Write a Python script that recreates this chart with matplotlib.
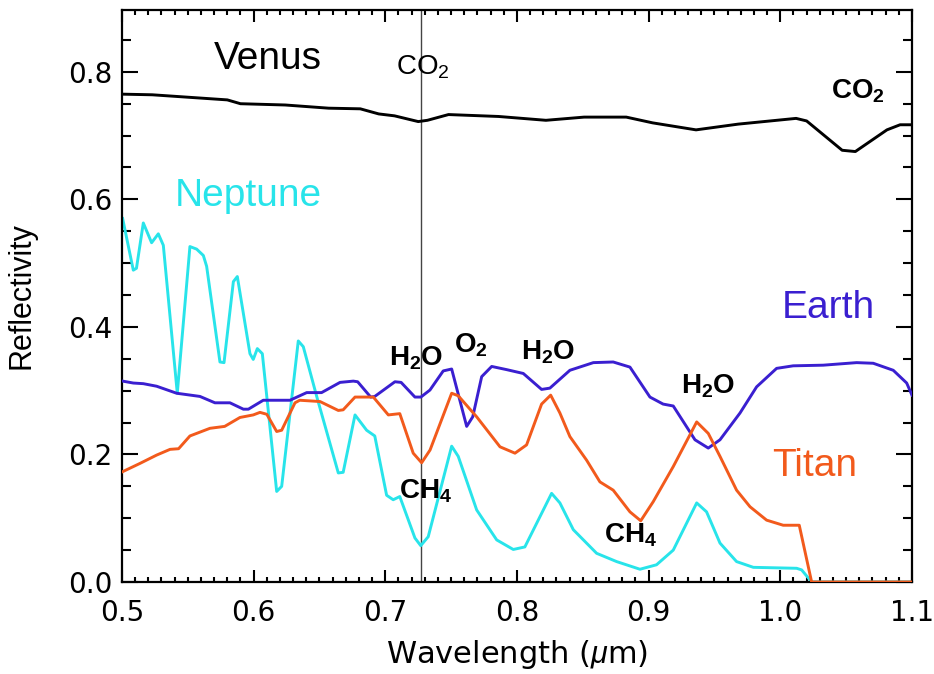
import numpy as np
import matplotlib
matplotlib.use('Agg')
import matplotlib.pyplot as plt

plt.rcParams['mathtext.fontset'] = 'custom'
plt.rcParams['mathtext.rm'] = 'Liberation Sans'
plt.rcParams['mathtext.it'] = 'Liberation Sans:italic'
plt.rcParams['mathtext.bf'] = 'Liberation Sans:bold'

# spectra: wavelength (um), reflectivity
venus_wl = [0.500, 0.523, 0.580, 0.590, 0.624, 0.657, 0.681, 0.695, 0.707, 0.725,
            0.732, 0.748, 0.786, 0.822, 0.851, 0.883, 0.903, 0.936, 0.968, 1.012,
            1.020, 1.047, 1.057, 1.081, 1.091, 1.100]
venus_r = [0.765, 0.764, 0.756, 0.750, 0.748, 0.743, 0.742, 0.734, 0.731, 0.722,
           0.724, 0.733, 0.730, 0.724, 0.729, 0.729, 0.720, 0.709, 0.718, 0.727,
           0.723, 0.677, 0.675, 0.709, 0.717, 0.717]

neptune_wl = [0.5005, 0.5086, 0.511, 0.5162, 0.5225, 0.5276, 0.5314, 0.542, 0.5516, 0.5567,
              0.5618, 0.5643, 0.5744, 0.5775, 0.5846, 0.5876, 0.5972, 0.5997, 0.6028, 0.6066,
              0.6175, 0.6213, 0.6339, 0.6377, 0.6479, 0.6643, 0.668, 0.677, 0.6858, 0.692,
              0.701, 0.706, 0.711, 0.7225, 0.7269, 0.7326, 0.7504, 0.7554, 0.7694, 0.7846,
              0.7972, 0.806, 0.8263, 0.8326, 0.8428, 0.8605, 0.8757, 0.8934, 0.906, 0.9187,
              0.9365, 0.944, 0.9542, 0.9668, 0.9795, 1.0124, 1.0162, 1.0238, 1.100]
neptune_r = [0.570, 0.489, 0.492, 0.563, 0.532, 0.546, 0.528, 0.296, 0.526, 0.522,
             0.512, 0.495, 0.345, 0.344, 0.471, 0.479, 0.358, 0.349, 0.366, 0.358,
             0.142, 0.150, 0.378, 0.369, 0.291, 0.171, 0.172, 0.262, 0.238, 0.229,
             0.136, 0.129, 0.134, 0.069, 0.057, 0.071, 0.213, 0.197, 0.113, 0.066,
             0.051, 0.055, 0.139, 0.124, 0.082, 0.045, 0.032, 0.020, 0.027, 0.050,
             0.124, 0.110, 0.061, 0.032, 0.023, 0.0215, 0.019, 0.0, 0.0]

earth_wl = [0.5005, 0.5086, 0.5162, 0.5263, 0.5415, 0.5592, 0.5706, 0.582, 0.5922, 0.596,
            0.6073, 0.6276, 0.6403, 0.6516, 0.6656, 0.6757, 0.679, 0.6889, 0.692, 0.7073,
            0.712, 0.7225, 0.727, 0.7339, 0.744, 0.7504, 0.7618, 0.7664, 0.7732, 0.7808,
            0.7922, 0.8048, 0.8187, 0.825, 0.8402, 0.858, 0.8731, 0.8858, 0.901, 0.911,
            0.9187, 0.9352, 0.9453, 0.9542, 0.9694, 0.982, 0.9972, 1.0098, 1.0326, 1.058,
            1.0706, 1.0858, 1.096, 1.100]
earth_r = [0.315, 0.312, 0.311, 0.307, 0.296, 0.291, 0.281, 0.281, 0.271, 0.271,
           0.285, 0.285, 0.297, 0.297, 0.313, 0.315, 0.314, 0.290, 0.291, 0.314,
           0.313, 0.290, 0.290, 0.301, 0.331, 0.334, 0.244, 0.259, 0.322, 0.338,
           0.333, 0.327, 0.302, 0.304, 0.332, 0.344, 0.345, 0.337, 0.290, 0.279,
           0.276, 0.223, 0.210, 0.223, 0.265, 0.306, 0.335, 0.339, 0.340, 0.344,
           0.343, 0.332, 0.312, 0.293]

titan_wl = [0.5005, 0.5137, 0.5263, 0.5365, 0.543, 0.5516, 0.5668, 0.578, 0.5896, 0.5997,
            0.6048, 0.610, 0.6175, 0.6213, 0.6314, 0.635, 0.6504, 0.6643, 0.668, 0.677,
            0.6909, 0.7023, 0.711, 0.7212, 0.7276, 0.734, 0.7504, 0.7554, 0.7694, 0.7871,
            0.7985, 0.8073, 0.8187, 0.8256, 0.8326, 0.8402, 0.8529, 0.863, 0.8731, 0.8858,
            0.894, 0.9035, 0.9187, 0.9365, 0.9453, 0.9542, 0.9668, 0.977, 0.9896, 1.0022,
            1.0144, 1.0238, 1.100]
titan_r = [0.173, 0.186, 0.199, 0.208, 0.209, 0.229, 0.241, 0.244, 0.258, 0.262,
           0.266, 0.263, 0.236, 0.238, 0.281, 0.285, 0.283, 0.269, 0.270, 0.290,
           0.290, 0.262, 0.264, 0.202, 0.187, 0.207, 0.296, 0.292, 0.259, 0.212,
           0.202, 0.215, 0.279, 0.293, 0.265, 0.228, 0.191, 0.157, 0.144, 0.110,
           0.096, 0.126, 0.181, 0.251, 0.233, 0.197, 0.144, 0.118, 0.097, 0.089,
           0.089, 0.0, 0.0]

ch4_line = 0.727

fig = plt.figure(figsize=(9.34, 6.74), dpi=100)
ax = fig.add_axes([0.1306, 0.1365, 0.8458, 0.8487])

ax.axvline(ch4_line, color='#444444', lw=1.0, zorder=1)
ax.plot(venus_wl, venus_r, color='black', lw=2.1, zorder=3)
ax.plot(neptune_wl, neptune_r, color='#28e4ea', lw=2.1, zorder=2)
ax.plot(earth_wl, earth_r, color='#3a1fd0', lw=2.1, zorder=3)
ax.plot(titan_wl, titan_r, color='#f25a1c', lw=2.1, zorder=4)

ax.set_xlim(0.5, 1.1)
ax.set_ylim(0.0, 0.897)
ax.set_xticks(np.arange(0.5, 1.101, 0.1))
ax.set_xticks(np.arange(0.5, 1.101, 0.01), minor=True)
ax.set_yticks(np.arange(0.0, 0.81, 0.2))
ax.set_yticks(np.arange(0.0, 0.89, 0.05), minor=True)
ax.xaxis.set_major_formatter(plt.FormatStrFormatter('%.1f'))
ax.yaxis.set_major_formatter(plt.FormatStrFormatter('%.1f'))
ax.tick_params(which='both', direction='in', top=True, right=True, width=1.5, labelsize=20)
ax.tick_params(axis='y', which='major', length=11.5, pad=7)
ax.tick_params(axis='y', which='minor', length=6.5)
ax.tick_params(axis='x', which='major', length=8.5, pad=12)
ax.tick_params(axis='x', which='minor', length=3.6)
for s in ax.spines.values():
    s.set_linewidth(1.6)

ax.set_xlabel(r'Wavelength ($\mu$m)', fontsize=22, family='DejaVu Sans')
ax.xaxis.set_label_coords(0.5, -0.098)
ax.set_ylabel('Reflectivity', fontsize=22, family='Liberation Sans')
ax.yaxis.set_label_coords(-0.108, 0.5)

big = dict(fontsize=28, family='Liberation Sans', ha='center', va='center')
ax.text(0.5 + (268 - 122) / 1316.7, 0.82, 'Venus', color='black', **big)
ax.text(0.5 + (248 - 122) / 1316.7, 0.605, 'Neptune', color='#28e4ea', **big)
ax.text(0.5 + (828 - 122) / 1316.7, 0.430, 'Earth', color='#3a1fd0', **big)
ax.text(0.5 + (815 - 122) / 1316.7, 0.182, 'Titan', color='#f25a1c', **big)

mol = dict(fontsize=20, ha='center', va='center', color='black')
ax.text(0.7288, 0.807, r'$\mathrm{CO_2}$', **mol)
ax.text(1.0591, 0.770, r'$\mathbf{CO_2}$', **mol)
ax.text(0.7233, 0.351, r'$\mathbf{H_2O}$', **mol)
ax.text(0.7650, 0.371, r'$\mathbf{O_2}$', **mol)
ax.text(0.8236, 0.360, r'$\mathbf{H_2O}$', **mol)
ax.text(0.9451, 0.308, r'$\mathbf{H_2O}$', **mol)
ax.text(0.7302, 0.143, r'$\mathbf{CH_4}$', **mol)
ax.text(0.8866, 0.073, r'$\mathbf{CH_4}$', **mol)

plt.savefig('out.png', dpi=100)
